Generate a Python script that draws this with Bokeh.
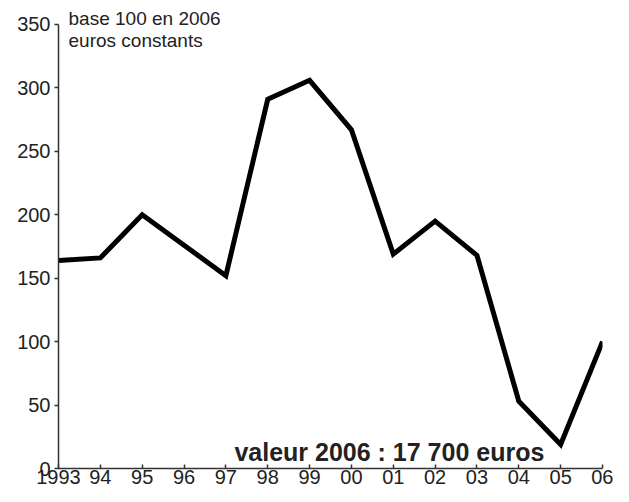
from bokeh.plotting import figure
from bokeh.models import Range1d, FixedTicker, Label
from bokeh.embed import file_html
from bokeh.resources import INLINE

years = [1993, 1994, 1995, 1996, 1997, 1998, 1999, 2000, 2001, 2002, 2003, 2004, 2005, 2006]
values = [164, 166, 200, 176, 152, 291, 306, 267, 169, 195, 168, 53, 19, 100]
x_tick_labels = ["1993", "94", "95", "96", "97", "98", "99", "00", "01", "02", "03", "04", "05", "06"]
y_ticks = [0, 50, 100, 150, 200, 250, 300, 350]
note_top = "base 100 en 2006\neuros constants"
note_value = "valeur 2006 : 17 700 euros"

FONT = "Liberation Sans"
TXT = "#222222"

p = figure(width=613, height=486, x_range=Range1d(1993, 2006), y_range=Range1d(0, 368.9),
           output_backend="svg", toolbar_location=None,
           min_border_left=58, min_border_right=11, min_border_top=0, min_border_bottom=0)
p.outline_line_color = None
p.xgrid.grid_line_color = None
p.ygrid.grid_line_color = None
p.background_fill_color = "white"
p.border_fill_color = "white"

p.line(years, values, line_color="black", line_width=5, line_join="miter")

xa = p.xaxis[0]
xa.ticker = FixedTicker(ticks=years)
xa.major_label_overrides = {y: l for y, l in zip(years, x_tick_labels)}
xa.bounds = (1993, 2006)
xa.major_tick_in = 4
xa.major_tick_out = 0
xa.minor_tick_line_color = None
xa.major_label_standoff = 1
xa.major_label_text_font = FONT
xa.major_label_text_font_size = "20px"
xa.major_label_text_color = TXT
xa.axis_line_color = "#333333"
xa.axis_line_width = 1.5
xa.major_tick_line_color = "#333333"
xa.major_tick_line_width = 1.5

ya = p.yaxis[0]
ya.ticker = FixedTicker(ticks=y_ticks)
ya.bounds = (0, 350)
ya.major_tick_in = 0
ya.major_tick_out = 4
ya.minor_tick_line_color = None
ya.major_label_standoff = 4
ya.major_label_text_font = FONT
ya.major_label_text_font_size = "20px"
ya.major_label_text_color = TXT
ya.axis_line_color = "#333333"
ya.axis_line_width = 1.5
ya.major_tick_line_color = "#333333"
ya.major_tick_line_width = 1.5

lab1 = Label(x=1993.24, y=363.1, text=note_top, text_font=FONT, text_font_size="19px",
             text_color=TXT, text_align="left", text_baseline="top", text_line_height=1.05)
p.add_layout(lab1)

lab2 = Label(x=2004.61, y=13.1, text=note_value, text_font=FONT, text_font_size="25px",
             text_font_style="bold", text_color=TXT, text_align="right", text_baseline="alphabetic")
p.add_layout(lab2)

open("out.html", "w").write(file_html(p, INLINE))
